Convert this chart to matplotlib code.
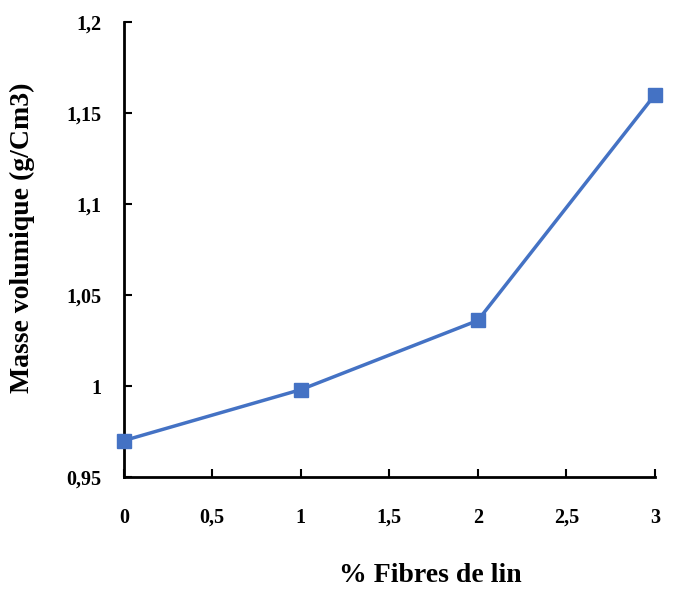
import matplotlib
matplotlib.use("Agg")
import matplotlib.pyplot as plt

fibres = [0, 1, 2, 3]
masse = [0.970, 0.998, 1.036, 1.160]
xticks = [0, 0.5, 1, 1.5, 2, 2.5, 3]
xticklabels = ["0", "0,5", "1", "1,5", "2", "2,5", "3"]
yticks = [0.95, 1.0, 1.05, 1.1, 1.15, 1.2]
yticklabels = ["0,95", "1", "1,05", "1,1", "1,15", "1,2"]

plt.rcParams['font.family'] = ['Liberation Serif', 'DejaVu Serif']
plt.rcParams['font.weight'] = 'bold'

fig = plt.figure(figsize=(6.8, 5.9), dpi=100)
ax = fig.add_axes([0.182, 0.1915, 0.781, 0.7712])
ax.plot(fibres, masse, color='#4472C4', lw=2.5, marker='s', ms=10,
        mec='#4472C4', mfc='#4472C4', clip_on=False, zorder=5)
ax.set_xlim(0, 3)
ax.set_ylim(0.95, 1.2)
ax.set_xticks(xticks)
ax.set_xticklabels(xticklabels)
ax.set_yticks(yticks)
ax.set_yticklabels(yticklabels)
for s in ['top', 'right']:
    ax.spines[s].set_visible(False)
for s in ['left', 'bottom']:
    ax.spines[s].set_linewidth(2)
ax.tick_params(direction='in', length=6, width=1.5, labelsize=14.5)
ax.tick_params(axis='x', pad=22)
ax.tick_params(axis='y', pad=16)
for lab in ax.get_xticklabels() + ax.get_yticklabels():
    lab.set_fontweight('bold')
fig.text(430 / 680, 1 - 576 / 590, '% Fibres de lin', fontsize=20, fontweight='bold',
         ha='center', va='center')
fig.text(22 / 680, 1 - 238 / 590, 'Masse volumique (g/Cm3)', fontsize=20, fontweight='bold',
         ha='center', va='center', rotation=90)
fig.savefig('out.png', dpi=100)
